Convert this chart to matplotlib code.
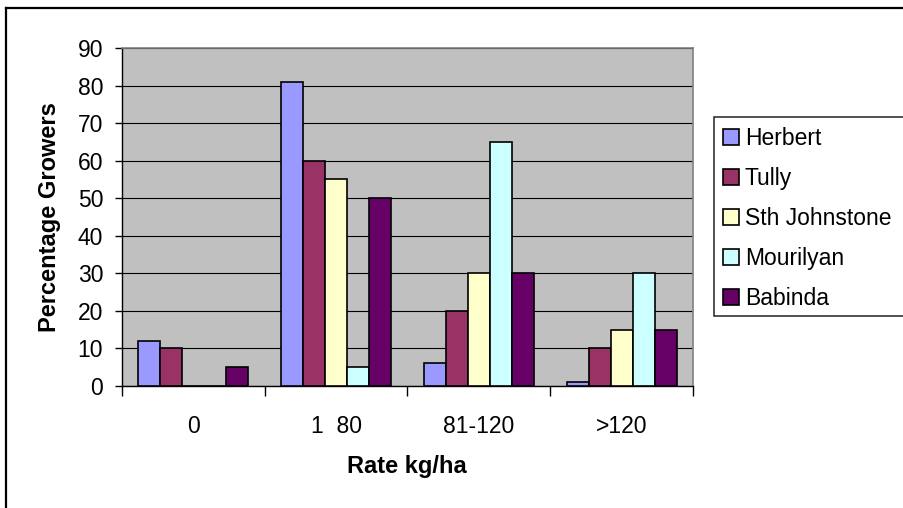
import numpy as np
import matplotlib.pyplot as plt
from matplotlib.patches import Rectangle
from matplotlib.lines import Line2D

plt.rcParams['font.family'] = ['Liberation Sans', 'DejaVu Sans']

# Share of growers in each N application rate band, by mill district
rates = ['0', '1  80', '81-120', '>120']
districts = ['Herbert', 'Tully', 'Sth Johnstone', 'Mourilyan', 'Babinda']
herbert = [12, 81, 6, 1]
tully = [10, 60, 20, 10]
sth_johnstone = [0, 55, 30, 15]
mourilyan = [0, 5, 65, 30]
babinda = [5, 50, 30, 15]
colours = ['#9999FF', '#993366', '#FFFFCC', '#CCFFFF', '#660066']

series = [herbert, tully, sth_johnstone, mourilyan, babinda]

W, H = 904, 508
fig = plt.figure(figsize=(W / 100, H / 100), dpi=100)
ax = fig.add_axes([122 / W, 1 - 386 / H, (693 - 122) / W, (386 - 48) / H])
ax.set_facecolor('#C0C0C0')

x = np.arange(len(rates))
width = 1 / 6.5  # five bars plus a 150% gap per category
for i, (name, vals) in enumerate(zip(districts, series)):
    ax.bar(x + (i - 2) * width, vals, width, color=colours[i], edgecolor='black',
           linewidth=1.2, label=name, zorder=3)

ax.set_xlim(-0.5, len(rates) - 0.5)
ax.set_ylim(0, 90)
ax.set_yticks(range(0, 91, 10))
ax.yaxis.grid(True, color='black', linewidth=0.8, zorder=1)
ax.set_axisbelow(True)

# category boundaries get tick marks, labels sit in the middle
ax.set_xticks(np.arange(-0.5, len(rates), 1))
ax.set_xticklabels([])
ax.set_xticks(x, minor=True)
ax.set_xticklabels(rates, minor=True, fontsize=16.5)
ax.tick_params(axis='x', which='major', length=7, width=1, color='black')
ax.tick_params(axis='x', which='minor', length=0, pad=21)
ax.tick_params(axis='y', length=5, width=1, pad=8.5, labelsize=16.5)

for side in ['top', 'right']:
    ax.spines[side].set_color('#808080')
    ax.spines[side].set_linewidth(1.2)
for side in ['left', 'bottom']:
    ax.spines[side].set_color('black')
    ax.spines[side].set_linewidth(1)

fig.text(50 / W, 1 - 217 / H, 'Percentage Growers', rotation=90, ha='center', va='center',
         fontsize=17, fontweight='bold')
fig.text(407 / W, 1 - 467 / H, 'Rate kg/ha', ha='center', va='center',
         fontsize=17, fontweight='bold')

# legend box runs off the right edge
fig.patches.append(Rectangle((714 / W, 1 - 316 / H), 220 / W, (316 - 117) / H,
                             transform=fig.transFigure, facecolor='white',
                             edgecolor='#333333', linewidth=1.2, zorder=2))
handles, labels = ax.get_legend_handles_labels()
fig.legend(handles, labels, loc='upper left', bbox_to_anchor=(723 / W, 1 - 127 / H),
           frameon=False, fontsize=16.5, borderpad=0, borderaxespad=0,
           handlelength=0.7, handleheight=0.7, handletextpad=0.26, labelspacing=0.745)

# outer chart border
fig.add_artist(Line2D([6 / W, 6 / W], [0, 1 - 8 / H], transform=fig.transFigure,
                      color='black', linewidth=1.6))
fig.add_artist(Line2D([6 / W, 1], [1 - 8 / H, 1 - 8 / H], transform=fig.transFigure,
                      color='black', linewidth=1.6))

fig.savefig('out.png', dpi=100)
